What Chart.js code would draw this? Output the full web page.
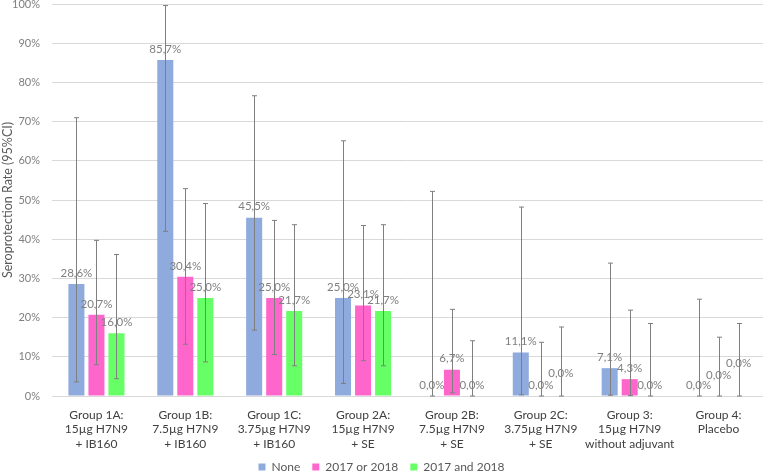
<!DOCTYPE html>
<html>
<head>
<meta charset="utf-8">
<script src="https://cdn.jsdelivr.net/npm/chart.js@4.4.0/dist/chart.umd.min.js"></script>
<style>
  html, body { margin: 0; padding: 0; background: #fff; }
  #wrap { width: 763px; height: 471px; }
</style>
</head>
<body>
<div id="wrap"><canvas id="chart" width="763" height="471"></canvas></div>
<script>
// group labels (multi-line)
const groups = [
  ['Group 1A:', '15µg H7N9', '+ IB160'],
  ['Group 1B:', '7.5µg H7N9', '+ IB160'],
  ['Group 1C:', '3.75µg H7N9', '+ IB160'],
  ['Group 2A:', '15µg H7N9', '+ SE'],
  ['Group 2B:', '7.5µg H7N9', '+ SE'],
  ['Group 2C:', '3.75µg H7N9', '+ SE'],
  ['Group 3:', '15µg H7N9', 'without adjuvant'],
  ['Group 4:', 'Placebo']
];

const seriesNames = ['None', '2017 or 2018', '2017 and 2018'];

// seroprotection rate (%)
const noneRate = [28.6, 85.7, 45.5, 25.0, 0.0, 11.1, 7.1, 0.0];
const eitherRate = [20.7, 30.4, 25.0, 23.1, 6.7, 0.0, 4.3, 0.0];
const bothRate = [16.0, 25.0, 21.7, 21.7, 0.0, 0.0, 0.0, 0.0];

// 95% CI bounds
const noneLow = [3.6, 42.0, 16.8, 3.2, 0.0, 0.3, 0.2, 0.0];
const noneHigh = [71.0, 99.6, 76.6, 65.1, 52.2, 48.2, 33.9, 24.7];
const eitherLow = [8.0, 13.2, 10.6, 9.0, 0.8, 0.0, 0.1, 0.0];
const eitherHigh = [39.7, 52.9, 44.8, 43.5, 22.1, 13.7, 21.9, 15.0];
const bothLow = [4.4, 8.7, 7.7, 7.7, 0.0, 0.0, 0.0, 0.0];
const bothHigh = [36.1, 49.1, 43.7, 43.7, 14.1, 17.6, 18.5, 18.5];

const colors = ['#8FAADC', '#FF66CC', '#66FF66'];

// a few data labels were lifted by hand in the original (px, per series/group)
const labelLift = {
  '2-5': 12,
  '1-7': 10,
  '2-7': 22
};

const lows = [noneLow, eitherLow, bothLow];
const highs = [noneHigh, eitherHigh, bothHigh];

const fontFam = 'Lato, "Open Sans", sans-serif';

// squeeze the legend band so it sits tight at the bottom
const legendHeight = {
  id: 'legendHeight',
  beforeInit(chart) {
    const fit = chart.legend.fit;
    chart.legend.fit = function () {
      fit.bind(chart.legend)();
      this.height = 22;
    };
  }
};

const errorBars = {
  id: 'errorBars',
  afterDatasetsDraw(chart) {
    const ctx = chart.ctx;
    const y = chart.scales.y;
    ctx.save();
    chart.data.datasets.forEach((ds, di) => {
      const meta = chart.getDatasetMeta(di);
      meta.data.forEach((bar, i) => {
        const x = Math.round(bar.x) + 0.5;
        const yl = y.getPixelForValue(lows[di][i]);
        const yh = y.getPixelForValue(highs[di][i]);
        ctx.strokeStyle = '#7f7f7f';
        ctx.lineWidth = 1;
        ctx.beginPath();
        ctx.moveTo(x, yl); ctx.lineTo(x, yh);
        ctx.moveTo(x - 2.5, yh); ctx.lineTo(x + 2.5, yh);
        ctx.moveTo(x - 2.5, yl); ctx.lineTo(x + 2.5, yl);
        ctx.stroke();
      });
    });
    // value labels
    ctx.font = '11.5px ' + fontFam;
    ctx.fillStyle = '#7f7f7f';
    ctx.textAlign = 'center';
    ctx.textBaseline = 'middle';
    chart.data.datasets.forEach((ds, di) => {
      const meta = chart.getDatasetMeta(di);
      meta.data.forEach((bar, i) => {
        const lift = labelLift[di + '-' + i] || 0;
        const txt = ds.data[i].toFixed(1).replace('.', ',') + '%';
        ctx.fillText(txt, bar.x, bar.y - 11 - lift);
      });
    });
    ctx.restore();
  }
};

new Chart(document.getElementById('chart'), {
  type: 'bar',
  data: {
    labels: groups,
    datasets: [noneRate, eitherRate, bothRate].map((vals, i) => ({
      label: seriesNames[i],
      data: vals,
      backgroundColor: colors[i],
      categoryPercentage: 0.676,
      barPercentage: 0.8
    }))
  },
  options: {
    responsive: false,
    animation: false,
    layout: { padding: 0 },
    plugins: {
      legend: {
        position: 'bottom',
        labels: {
          boxWidth: 7,
          boxHeight: 7,
          padding: 12,
          color: '#595959',
          font: { family: fontFam, size: 12 }
        }
      },
      tooltip: { enabled: false }
    },
    scales: {
      x: {
        grid: { display: false, drawTicks: false },
        border: { display: true, color: '#d9d9d9' },
        afterFit: s => {
          s.paddingLeft = 0;
          s.paddingRight = 0;
          s.height = 53;
          // let the third label line hang a little below the axis box
          s._computeLabelArea = () => null;
        },
        ticks: {
          padding: 12,
          color: '#404040',
          font: { family: fontFam, size: 12, lineHeight: 1.2 },
          maxRotation: 0,
          autoSkip: false
        }
      },
      y: {
        min: 0,
        max: 100,
        border: { display: false },
        grid: { color: '#d9d9d9', drawTicks: true, tickLength: 12, tickColor: 'rgba(0,0,0,0)' },
        afterFit: scale => { scale.width = 52; },
        ticks: {
          stepSize: 10,
          padding: 0,
          color: '#7f7f7f',
          font: { family: fontFam, size: 11, lineHeight: 0.73 },
          callback: v => v + '%'
        },
        title: {
          display: true,
          text: 'Seroprotection Rate (95%CI)',
          color: '#595959',
          font: { family: fontFam, size: 12.5 },
          padding: { top: 0, bottom: 0 }
        }
      }
    }
  },
  plugins: [errorBars, legendHeight]
});
</script>
</body>
</html>
